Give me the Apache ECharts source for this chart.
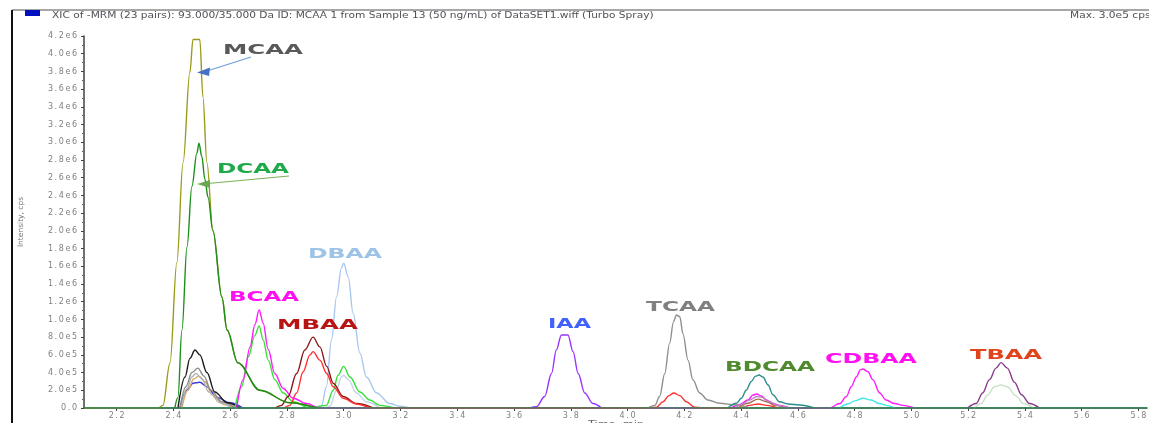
<!DOCTYPE html>
<html><head><meta charset="utf-8">
<script src="https://cdn.jsdelivr.net/npm/echarts@6/dist/echarts.min.js"></script>
<style>html,body{margin:0;padding:0;background:#fff;overflow:hidden}#c{width:1149px;height:423px}</style>
</head><body><div id="c"></div>
<script>
// ---------- DATA ----------
const xTickValues = [2.2,2.4,2.6,2.8,3.0,3.2,3.4,3.6,3.8,4.0,4.2,4.4,4.6,4.8,5.0,5.2,5.4,5.6,5.8];
const timeRange = [2.085, 5.83];
const yRange = [0, 4.2e6];
const yStep = 2e5;

const mcaa = [[2.085,0],[2.346,0],[2.363,0.03e6],[2.388,0.51e6],[2.412,1.64e6],[2.434,2.77e6],[2.458,3.79e6],[2.469,4.16e6],[2.493,4.16e6],[2.504,3.51e6],[2.518,2.77e6],[2.539,2.01e6],[2.571,1.25e6],[2.589,0.88e6],[2.627,0.51e6],[2.705,0.20e6],[2.810,0.06e6],[2.905,0]];
const dcaa = [[2.405,0],[2.416,0.12e6],[2.430,0.88e6],[2.448,1.82e6],[2.465,2.50e6],[2.483,2.88e6],[2.490,2.99e6],[2.500,2.84e6],[2.511,2.58e6],[2.522,2.38e6],[2.539,2.0e6],[2.571,1.25e6],[2.589,0.88e6],[2.627,0.51e6],[2.705,0.20e6],[2.810,0.06e6],[2.905,0]];
const blackTrace = [[2.416,0],[2.441,0.35e6],[2.458,0.56e6],[2.476,0.655e6],[2.493,0.60e6],[2.518,0.40e6],[2.546,0.18e6],[2.589,0.06e6],[2.634,0]];
const greyTrace1 = [[2.423,0],[2.444,0.24e6],[2.465,0.40e6],[2.486,0.45e6],[2.508,0.36e6],[2.532,0.20e6],[2.571,0.07e6],[2.617,0]];
const greyTrace2 = [[2.427,0],[2.448,0.22e6],[2.465,0.35e6],[2.479,0.39e6],[2.500,0.33e6],[2.525,0.18e6],[2.564,0.06e6],[2.606,0]];
const tanTrace = [[2.430,0],[2.451,0.20e6],[2.472,0.33e6],[2.490,0.36e6],[2.511,0.30e6],[2.536,0.15e6],[2.578,0.04e6],[2.620,0]];
const blueTrace = [[2.423,0],[2.448,0.20e6],[2.469,0.28e6],[2.493,0.29e6],[2.518,0.24e6],[2.553,0.12e6],[2.599,0.06e6],[2.645,0]];
const brightGreen = [[2.617,0],[2.640,0.24e6],[2.664,0.58e6],[2.687,0.82e6],[2.702,0.927e6],[2.716,0.77e6],[2.734,0.54e6],[2.757,0.32e6],[2.787,0.17e6],[2.822,0.07e6],[2.881,0],[2.939,0.03e6],[2.963,0.20e6],[2.980,0.37e6],[3.000,0.47e6],[3.022,0.35e6],[3.057,0.18e6],[3.092,0.09e6],[3.127,0.03e6],[3.180,0]];
const magenta = [[2.623,0],[2.646,0.32e6],[2.670,0.69e6],[2.687,0.94e6],[2.702,1.107e6],[2.716,0.96e6],[2.734,0.66e6],[2.757,0.39e6],[2.787,0.22e6],[2.822,0.11e6],[2.869,0.05e6],[2.916,0],
  [4.360,0],[4.395,0.04e6],[4.424,0.09e6],[4.442,0.147e6],[4.456,0.158e6],[4.471,0.136e6],[4.489,0.09e6],[4.512,0.05e6],[4.536,0.03e6],[4.578,0],
  [4.712,0],[4.747,0.05e6],[4.771,0.13e6],[4.788,0.24e6],[4.806,0.35e6],[4.820,0.43e6],[4.829,0.44e6],[4.847,0.41e6],[4.864,0.32e6],[4.888,0.17e6],[4.911,0.09e6],[4.941,0.05e6],[4.970,0.03e6],[5.011,0]];
const mbaa = [[2.758,0],[2.781,0.03e6],[2.804,0.13e6],[2.834,0.39e6],[2.863,0.655e6],[2.892,0.80e6],[2.916,0.69e6],[2.940,0.47e6],[2.963,0.28e6],[2.998,0.13e6],[3.045,0.05e6],[3.104,0]];
const redTrace = [[2.789,0],[2.810,0.03e6],[2.834,0.17e6],[2.857,0.41e6],[2.881,0.60e6],[2.892,0.636e6],[2.916,0.54e6],[2.940,0.39e6],[2.963,0.24e6],[2.998,0.11e6],[3.045,0.045e6],[3.104,0],
  [4.078,0],[4.102,0.01e6],[4.125,0.07e6],[4.146,0.14e6],[4.163,0.17e6],[4.184,0.14e6],[4.207,0.07e6],[4.236,0.01e6],[4.261,0],
  [4.400,0],[4.430,0.03e6],[4.460,0.045e6],[4.490,0.03e6],[4.530,0]];
const dbaa = [[2.902,0],[2.922,0.03e6],[2.939,0.24e6],[2.957,0.77e6],[2.975,1.26e6],[2.992,1.58e6],[3.000,1.635e6],[3.016,1.48e6],[3.033,1.07e6],[3.057,0.62e6],[3.080,0.35e6],[3.116,0.17e6],[3.162,0.05e6],[3.198,0.02e6],[3.233,0]];
const steelTrace = [[2.934,0],[2.951,0.02e6],[2.975,0.20e6],[2.992,0.35e6],[3.000,0.37e6],[3.016,0.32e6],[3.045,0.17e6],[3.080,0.07e6],[3.127,0]];
const iaa = [[3.655,0],[3.679,0.015e6],[3.708,0.13e6],[3.732,0.39e6],[3.749,0.655e6],[3.767,0.825e6],[3.790,0.825e6],[3.808,0.636e6],[3.826,0.39e6],[3.849,0.17e6],[3.878,0.05e6],[3.908,0]];
const tcaa = [[4.071,0],[4.096,0.03e6],[4.113,0.13e6],[4.131,0.39e6],[4.148,0.73e6],[4.162,0.975e6],[4.172,1.05e6],[4.184,1.03e6],[4.195,0.84e6],[4.213,0.54e6],[4.230,0.32e6],[4.254,0.17e6],[4.283,0.09e6],[4.324,0.053e6],[4.383,0.034e6],[4.430,0]];
const bdcaa = [[4.353,0],[4.383,0.053e6],[4.401,0.11e6],[4.418,0.20e6],[4.436,0.30e6],[4.451,0.36e6],[4.463,0.373e6],[4.477,0.35e6],[4.495,0.26e6],[4.512,0.15e6],[4.536,0.07e6],[4.565,0.045e6],[4.606,0.034e6],[4.659,0]];
const orchidTrace = [[4.380,0],[4.400,0.04e6],[4.430,0.09e6],[4.455,0.13e6],[4.475,0.12e6],[4.500,0.07e6],[4.530,0.03e6],[4.570,0]];
const brownTrace = [[4.390,0],[4.420,0.05e6],[4.460,0.10e6],[4.490,0.07e6],[4.520,0.03e6],[4.560,0]];
const cyanTrace = [[4.747,0],[4.776,0.045e6],[4.800,0.08e6],[4.829,0.11e6],[4.858,0.09e6],[4.888,0.05e6],[4.911,0.03e6],[4.941,0]];
const tbaa = [[5.198,0],[5.228,0.05e6],[5.251,0.17e6],[5.275,0.32e6],[5.298,0.45e6],[5.316,0.512e6],[5.338,0.45e6],[5.363,0.29e6],[5.388,0.15e6],[5.416,0.05e6],[5.451,0]];
const paleGreen = [[5.222,0],[5.246,0.05e6],[5.269,0.15e6],[5.293,0.24e6],[5.316,0.26e6],[5.338,0.24e6],[5.367,0.14e6],[5.395,0.05e6],[5.430,0]];
const baseline = [[2.085,0],[5.83,0]];

// ---------- STYLE ----------
const traces = [
  {data: blueTrace, color:'#3c3cd8'},
  {data: tanTrace, color:'#d8a868'},
  {data: greyTrace2, color:'#b4b4b4'},
  {data: greyTrace1, color:'#8c8c8c'},
  {data: blackTrace, color:'#1a1a1a'},
  {data: steelTrace, color:'#c4d4ea'},
  {data: dbaa, color:'#a9c8ee'},
  {data: brightGreen, color:'#33e033'},
  {data: magenta, color:'#ff1aff'},
  {data: mbaa, color:'#8b1a1a'},
  {data: redTrace, color:'#ff3030'},
  {data: iaa, color:'#9933ff'},
  {data: tcaa, color:'#8f8f8f'},
  {data: brownTrace, color:'#a87050'},
  {data: orchidTrace, color:'#c080c8'},
  {data: bdcaa, color:'#2a8c8c'},
  {data: cyanTrace, color:'#40e8e8'},
  {data: paleGreen, color:'#c8e2c8'},
  {data: tbaa, color:'#8b3a8b'},
  {data: mcaa, color:'#9b9b1b'},
  {data: dcaa, color:'#1a8f1a'},
  {data: baseline, color:'#2e8b57'}
];

const annotations = [
  {text:'MCAA', x:223, y:50, w:80, color:'#595959'},
  {text:'DCAA', x:217, y:169, w:72, color:'#1faa4a'},
  {text:'DBAA', x:308, y:254, w:74, color:'#9dc3e6'},
  {text:'BCAA', x:229, y:297, w:70, color:'#ff10f0'},
  {text:'MBAA', x:277, y:325.5, w:81, color:'#b81414'},
  {text:'IAA', x:548, y:324.5, w:43, color:'#4060ff'},
  {text:'TCAA', x:646, y:307, w:69, color:'#808080'},
  {text:'BDCAA', x:725, y:367.5, w:90, color:'#4f8a2e'},
  {text:'CDBAA', x:825, y:359, w:92, color:'#ff10f0'},
  {text:'TBAA', x:970, y:355, w:72, color:'#e0441c'}
];

const spaced = s => s.split('').join('\u2009');
const annFont = 'bold 13.5px "DejaVu Sans"';
const ctx = document.createElement('canvas').getContext('2d');
ctx.font = annFont;

const txt = (t, x, y, font, fill, sx, va) => ({type:'text', x, y, scaleX:sx, z:100,
  style:{text:t, fill, font, align:'left', verticalAlign:va||'middle', textAlign:'left', textVerticalAlign:va||'middle'}});

const graphics = [
  {type:'line', shape:{x1:12,y1:10,x2:1149,y2:10}, style:{stroke:'#8a8a8a', lineWidth:1.5}, z:100},
  {type:'line', shape:{x1:12,y1:10,x2:12,y2:423}, style:{stroke:'#111', lineWidth:2}, z:100},
  {type:'rect', shape:{x:25,y:10,width:15,height:6}, style:{fill:'#0010c0'}, z:100},
  txt('XIC of -MRM (23 pairs): 93.000/35.000 Da ID: MCAA 1 from Sample 13 (50 ng/mL) of DataSET1.wiff (Turbo Spray)', 52, 15.5, '8.5px "DejaVu Sans"', '#505058', 1.25),
  txt('Max. 3.0e5 cps', 1070, 15.5, '8.5px "DejaVu Sans"', '#505058', 1.25),
  txt('Time, min', 588, 420, '9px "DejaVu Sans"', '#666', 1.25, 'top'),
  {type:'line', shape:{x1:251,y1:57,x2:207,y2:71}, style:{stroke:'#6d9fd8', lineWidth:1.2}, z:100},
  {type:'polygon', shape:{points:[[197,72.5],[210,67.5],[209,76]]}, style:{fill:'#4472c4'}, z:100},
  {type:'line', shape:{x1:289,y1:176,x2:208,y2:183.5}, style:{stroke:'#7bb05a', lineWidth:1.2}, z:100},
  {type:'polygon', shape:{points:[[197,184],[210,180],[210,188]]}, style:{fill:'#6aa84f'}, z:100}
];
annotations.forEach(a => {
  const w = ctx.measureText(a.text).width || 1;
  graphics.push(txt(a.text, a.x, a.y, annFont, a.color, a.w / w));
});

const chart = echarts.init(document.getElementById('c'), null, {renderer:'canvas'});
chart.setOption({
  animation:false,
  backgroundColor:'#fff',
  grid:{left:84, right:2, top:36, bottom:15, containLabel:false, outerBoundsMode:'none'},
  xAxis:{
    type:'value', min:timeRange[0], max:timeRange[1],
    axisLine:{lineStyle:{color:'#404040', width:1.5}},
    axisTick:{show:true, length:3, customValues:xTickValues, lineStyle:{color:'#404040'}},
    axisLabel:{customValues:xTickValues, margin:4, color:'#808080', fontSize:8, fontFamily:'DejaVu Sans', formatter:v=>spaced(Number(v).toFixed(1))},
    splitLine:{show:false}
  },
  yAxis:{
    type:'value', min:yRange[0], max:yRange[1], interval:yStep,
    name:'Intensity, cps', nameLocation:'middle', nameGap:59, nameRotate:90,
    nameTextStyle:{color:'#777', fontSize:7.5, fontFamily:'DejaVu Sans'},
    axisLine:{show:true, lineStyle:{color:'#404040', width:1.5}},
    axisTick:{show:true, length:3, lineStyle:{color:'#404040'}},
    minorTick:{show:true, splitNumber:2, length:2, lineStyle:{color:'#606060'}},
    axisLabel:{margin:7, color:'#808080', fontSize:8, fontFamily:'DejaVu Sans',
      formatter:v=> v===0 ? spaced('0.0') : spaced(Number(v).toExponential(1).replace('+',''))},
    splitLine:{show:false}
  },
  series: traces.map(t => ({
    type:'line', data:t.data, showSymbol:false, smooth:0.35, smoothMonotone:'x', clip:true,
    lineStyle:{color:t.color, width:1.4}, itemStyle:{color:t.color}
  })),
  graphic: graphics
});
</script>
</body></html>
